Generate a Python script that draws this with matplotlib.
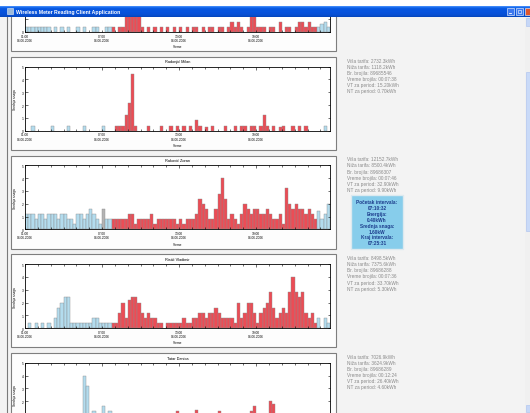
import matplotlib
matplotlib.use("Agg")
import matplotlib.pyplot as plt
from matplotlib.patches import Rectangle
from matplotlib.lines import Line2D
import numpy as np

plt.rcParams['font.family'] = ['Liberation Sans', 'DejaVu Sans']

W, H = 530, 414

naslov = "Wireless Meter Reading Client Application"

# potrosaci (prvi panel je odsecen na vrhu prozora)
imena = ["", "Radonjić Milan", "Raković Zoran", "Ristić Vladimir", "Tatar Danica"]

# srednja snaga [kW] po intervalima od 15 min, od 01:00
snaga_1 = [0.4, 0.4, 0.4, 0.4, 0.4, 0.4, 0.4, 0.4, 0, 0.4,
           0, 0.4, 0, 0.4, 0, 0, 0.4, 0, 0.4, 0,
           0, 0.4, 0.4, 0, 0, 0.4, 0.4, 0.4, 0, 0.4,
           0.4, 1.6, 2.4, 2.4, 2.0, 1.6, 0.4, 0, 0.4, 0,
           0.4, 0, 0.4, 0, 0.4, 0, 0.4, 0, 0.4, 0,
           0.4, 0, 0.4, 0.4, 0, 0.4, 0, 0.4, 0.4, 0,
           0.4, 0.4, 0, 0.4, 0.8, 0.4, 0.8, 0.4, 0, 0.4,
           1.6, 1.6, 0.4, 0.4, 0.4, 0, 0.4, 0.4, 0, 0.8,
           0, 0.4, 0.4, 0, 0.4, 0.8, 0.8, 0.4, 0.8, 0.4,
           0.4, 0.4, 0.6, 0.8, 0.4]
snaga_2 = [0, 0, 0.4, 0, 0, 0, 0, 0, 0.4, 0,
           0, 0, 0, 0.4, 0, 0, 0, 0, 0.4, 0,
           0, 0, 0, 0, 0.4, 0, 0, 0, 0.4, 0.4,
           0.4, 1.2, 2.2, 4.4, 0.4, 0, 0, 0, 0.4, 0,
           0, 0, 0.4, 0, 0, 0.4, 0, 0.4, 0, 0.4,
           0, 0.4, 0, 0.8, 0.4, 0, 0.3, 0, 0.4, 0,
           0, 0, 0.4, 0, 0, 0.4, 0, 0.4, 0.4, 0,
           0.4, 0.4, 0, 0.4, 1.2, 0.4, 0, 0.4, 0, 0.3,
           0.4, 0, 0, 0.4, 0, 0.4, 0, 0.4, 0, 0,
           0, 0, 0, 0.4, 0]
snaga_3 = [1.2, 1.2, 1.2, 0.8, 1.2, 1.2, 0.8, 1.2, 1.2, 1.2,
           0.8, 1.2, 1.2, 0.8, 0.8, 0.4, 1.2, 1.2, 0.8, 1.2,
           1.6, 1.2, 0.8, 0.4, 1.6, 0.8, 0.8, 0.8, 0.8, 0.8,
           0.8, 0.8, 1.2, 1.2, 0.4, 0.8, 0.8, 0.8, 0.8, 1.2,
           0.4, 0.8, 0.8, 0.8, 0.8, 0.8, 0.8, 0.4, 0.8, 0.4,
           0.8, 0.8, 0.8, 1.2, 2.4, 2.0, 1.6, 0.8, 0.8, 1.6,
           2.8, 4.0, 2.4, 0.8, 1.2, 0.8, 0.4, 1.2, 2.0, 1.6,
           1.2, 1.6, 1.6, 1.2, 1.2, 1.6, 1.2, 0.8, 0.8, 1.2,
           0.4, 3.2, 2.0, 1.6, 2.0, 1.6, 1.6, 1.2, 1.6, 1.2,
           0.8, 1.4, 0.8, 1.2, 2.0]
snaga_4 = [0, 0.4, 0, 0.4, 0, 0.4, 0, 0.4, 0, 0.8,
           1.6, 2.0, 2.4, 2.4, 0.4, 0.4, 0.4, 0.4, 0.4, 0.4,
           0.4, 0.8, 0.8, 0.4, 0.4, 0.4, 0.4, 0.4, 0.4, 1.2,
           2.0, 0.8, 2.2, 2.4, 2.4, 2.0, 1.2, 0.8, 1.2, 0.8,
           0.8, 0.4, 0.4, 0, 0.4, 0.4, 0.4, 0.4, 0.4, 0.8,
           0.4, 0.4, 0.8, 0.8, 1.2, 1.2, 0.8, 1.2, 1.2, 1.6,
           1.2, 0.8, 0.8, 0.8, 0.8, 0.4, 2.0, 0.8, 1.2, 2.0,
           2.0, 1.2, 0.4, 1.2, 1.6, 2.0, 2.8, 1.6, 0.8, 1.2,
           1.6, 1.2, 2.8, 4.0, 2.8, 2.4, 2.8, 1.2, 0.8, 1.2,
           0.4, 0.8, 0, 0.8, 0.4]
snaga_5 = [0.4, 0, 0.4, 0.4, 0, 0.4, 0.4, 0, 0.4, 0.4,
           0.4, 0.8, 0.4, 0.4, 0, 0.4, 0.8, 0.4, 4.0, 3.2,
           0.4, 1.2, 0.4, 0.4, 1.6, 0.4, 1.2, 0.4, 0.4, 0.8,
           0.4, 0.4, 0.8, 0.4, 0.4, 0.4, 0.8, 0.4, 0.4, 0.4,
           0.4, 0.8, 0.4, 0.4, 0.4, 0.4, 0.4, 1.2, 0.4, 0.4,
           0.8, 0.4, 0.4, 1.3, 0.4, 0.4, 0.8, 0.4, 0.4, 0.4,
           1.2, 0.4, 0.4, 0.8, 0.4, 0.4, 0.4, 0.8, 0.4, 0.4,
           1.2, 1.6, 0.4, 0.8, 0.4, 0.4, 2.0, 1.8, 0.4, 0.8,
           0.4, 0.4, 0.8, 0.4, 0.4, 0.8, 0.4, 0.4, 0.4, 0.8,
           0.4, 0.4, 0.8, 0.4, 0.4]
snage = [snaga_1, snaga_2, snaga_3, snaga_4, snaga_5]

pocetak = 1.0      # 01:00
korak = 0.25       # 15 min
vt_od, vt_do = 27, 90      # intervali sa visokom tarifom
izabran = (2, 24)          # panel, interval (sivi stubic)

sati = [1, 7, 13, 19]
sati_labele = ["01:00\n04.06.2006", "07:00\n04.06.2006",
               "13:00\n04.06.2006", "19:00\n04.06.2006"]

info = [
    None,
    ["Viša tarifa: 2732.3kWh", "Niža tarifa: 1118.2kWh", "Br. brojila: 89685546",
     "Vreme brojila: 00:07:38", "VT za period: 15.20kWh", "NT za period: 0.70kWh"],
    ["Viša tarifa: 12152.7kWh", "Niža tarifa: 8500.4kWh", "Br. brojila: 89686307",
     "Vreme brojila: 00:07:46", "VT za period: 32.90kWh", "NT za period: 9.90kWh"],
    ["Viša tarifa: 8498.5kWh", "Niža tarifa: 7375.6kWh", "Br. brojila: 89686288",
     "Vreme brojila: 00:07:36", "VT za period: 33.70kWh", "NT za period: 5.30kWh"],
    ["Viša tarifa: 7026.9kWh", "Niža tarifa: 3624.9kWh", "Br. brojila: 89686289",
     "Vreme brojila: 00:12:24", "VT za period: 26.40kWh", "NT za period: 4.60kWh"],
]

interval_info = ["Početak intervala:", "07:10:32", "Energija:", "0.40kWh",
                 "Srednja snaga:", "1.60kW", "Kraj intervala:", "07:25:31"]


def fx(x):
    return x / W


def fy(y):
    return 1 - y / H


fig = plt.figure(figsize=(W / 100, H / 100), dpi=100)
fig.patch.set_facecolor("#F3F3F3")

# leva ivica
fig.add_artist(Line2D([fx(7), fx(7)], [fy(18), 0], transform=fig.transFigure,
                      color="#7A7A7A", lw=0.8, zorder=-4))

n = len(snaga_1)
for k in range(5):
    T = 58 + 98.7 * (k - 1)
    fig.add_artist(Rectangle((fx(11), fy(T + 93)), (336 - 11) / W, 93 / H,
                             transform=fig.transFigure, facecolor="#FDFDFD",
                             edgecolor="#7E7E7E", lw=0.8, zorder=-5))

    ax = fig.add_axes([fx(25), fy(T + 73.7), 305 / W, 64 / H])
    x = pocetak + korak * np.arange(n)
    vals = np.array(snage[k])
    boje = []
    for i in range(n):
        if (k, i) == izabran:
            boje.append("#B4B4B4")
        elif vt_od <= i <= vt_do:
            boje.append("#EC4C55")
        else:
            boje.append("#B3DCEE")
    m = vals > 0
    ax.bar(x[m], vals[m], width=korak, align='edge',
           color=np.array(boje)[m], edgecolor="#8C8C8C", linewidth=0.3)
    ax.set_xlim(pocetak, pocetak + korak * n)
    ax.set_ylim(0, 5)
    ax.set_xticks(sati)
    ax.set_xticks(np.arange(1, 25), minor=True)
    ax.set_yticks(range(6))

    # samo oznake koje se vide u prozoru
    y_lab = [str(v) for v in range(6)]
    x_lab = sati_labele
    if k == 0:
        y_lab = ["0", "", "", "", "", ""]
    if k == 4:
        y_lab = ["", "", "2", "3", "4", "5"]
        x_lab = ["", "", "", ""]
    ax.set_xticklabels(x_lab, fontsize=2.3, linespacing=1.1)
    ax.set_yticklabels(y_lab, fontsize=2.3)
    ax.tick_params(which='both', direction='in', top=True, right=True,
                   width=0.4, pad=1.2)
    ax.tick_params(which='major', length=1.8)
    ax.tick_params(which='minor', length=1.1)
    for s in ax.spines.values():
        s.set_linewidth(0.6)

    if k > 0:
        fig.text(fx(177.5), fy(T + 4.5), imena[k], fontsize=2.8, ha='center', va='center')
        fig.text(fx(15), fy(min(T + 42, 396)), "Srednja snaga", fontsize=2.3, rotation=90,
                 ha='center', va='center')
    if k < 4:
        fig.text(fx(177.5), fy(T + 88), "Vreme", fontsize=2.3, ha='center', va='center')

    if info[k]:
        for j, red in enumerate(info[k]):
            fig.text(fx(347), fy(T + 3.2 + 6.1 * j), red, fontsize=3.4,
                     color="#8A8A8A", va='center')

# plavi okvir sa podacima o izabranom intervalu
fig.add_artist(Rectangle((fx(351), fy(250)), 52 / W, 54 / H, transform=fig.transFigure,
                         facecolor="#87CDEB", edgecolor="#DCE9EF", lw=1.0, zorder=2))
for j, red in enumerate(interval_info):
    fig.text(fx(377), fy(202.5 + 5.9 * j), red, fontsize=3.4, weight='bold',
             color="#1C3C8C", ha='center', va='center', zorder=3)

# skrol bar
fig.add_artist(Rectangle((fx(525), 0), 5 / W, fy(18), transform=fig.transFigure,
                         facecolor="#F0F0F0", edgecolor="none", zorder=10))
fig.add_artist(Rectangle((fx(525.5), fy(27)), 4.5 / W, 8 / H, transform=fig.transFigure,
                         facecolor="#C6D7F7", edgecolor="#A9C0EE", lw=0.4, zorder=10))
fig.add_artist(Rectangle((fx(525.5), fy(232)), 4.5 / W, 159 / H, transform=fig.transFigure,
                         facecolor="#C9DAF8", edgecolor="#A9C0EE", lw=0.4, zorder=10))
fig.add_artist(Rectangle((fx(525.5), fy(413)), 4.5 / W, 7 / H, transform=fig.transFigure,
                         facecolor="#C6D7F7", edgecolor="#A9C0EE", lw=0.4, zorder=10))

# naslovna traka prozora
hdr = fig.add_axes([0, fy(18), 1, 18 / H])
hdr.set_zorder(20)
grad = np.array([[0.24, 0.53, 0.97], [0.10, 0.42, 0.93], [0.04, 0.36, 0.89],
                 [0.03, 0.34, 0.88], [0.03, 0.33, 0.87], [0.03, 0.33, 0.87],
                 [0.03, 0.32, 0.86], [0.03, 0.32, 0.85], [0.03, 0.31, 0.83],
                 [0.03, 0.30, 0.80], [0.02, 0.28, 0.75]])[:, None, :]
hdr.add_patch(Rectangle((0, 0), W, 7, facecolor="white", edgecolor="none"))
hdr.imshow(grad, extent=(0, W, 18, 7), aspect='auto', interpolation='bilinear')
hdr.add_patch(Rectangle((6.5, 9), 6, 6, facecolor="#9DBAD9", edgecolor="#E8F0F8", lw=0.4))
hdr.text(16, 12.6, naslov, color="white", fontsize=3.7, weight='bold', va='center')
hdr.add_patch(Rectangle((506.5, 8.5), 7, 7, facecolor="#3C78EE", edgecolor="white", lw=0.4))
hdr.add_patch(Rectangle((515.5, 8.5), 7, 7, facecolor="#3C78EE", edgecolor="white", lw=0.4))
hdr.add_patch(Rectangle((524.5, 8.5), 7, 7, facecolor="#E0562C", edgecolor="white", lw=0.4))
hdr.plot([508.5, 511], [13.8, 13.8], color="white", lw=0.6)
hdr.add_patch(Rectangle((517.5, 10.5), 3, 3, facecolor="none", edgecolor="white", lw=0.4))
hdr.set_xlim(0, W)
hdr.set_ylim(18, 0)
hdr.axis('off')

fig.savefig("out.png", dpi=100)
